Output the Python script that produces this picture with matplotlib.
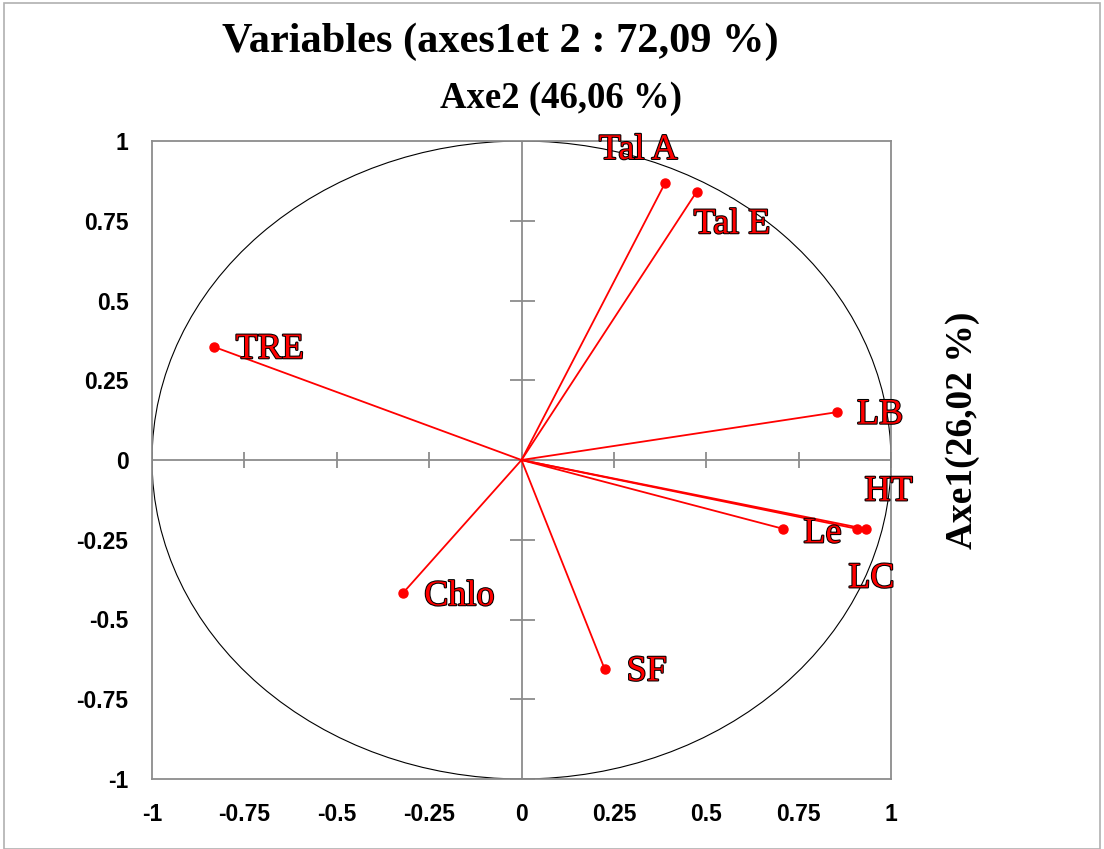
import numpy as np
import matplotlib
matplotlib.use('Agg')
import matplotlib.pyplot as plt
from matplotlib.patches import Circle, Rectangle
import matplotlib.patheffects as pe

# correlations of the variables with the two first axes
variables = ['Tal A', 'Tal E', 'TRE', 'LB', 'HT', 'LC', 'Le', 'Chlo', 'SF']
f1 = [0.388, 0.474, -0.833, 0.854, 0.931, 0.909, 0.709, -0.320, 0.225]
f2 = [0.867, 0.841, 0.355, 0.150, -0.216, -0.216, -0.216, -0.416, -0.655]

ticks = [-1, -0.75, -0.5, -0.25, 0, 0.25, 0.5, 0.75, 1]
tick_labels = ['-1', '-0.75', '-0.5', '-0.25', '0', '0.25', '0.5', '0.75', '1']

# label offsets from the point, in pixels (dx, dy)
offsets = [(-66, 33), (-3, -33), (22, -3), (20, -3), (-1, 37),
           (-9, -50), (20, -5), (21, -4), (22, -3)]

gray = '#8c8c8c'

fig = plt.figure(figsize=(11.04, 8.49), dpi=100)
fig.patches.append(Rectangle((0.004, 0.0), 0.992, 0.996, transform=fig.transFigure,
                             fill=False, edgecolor='#b0b0b0', lw=1.2))
ax = fig.add_axes([152 / 1104, 1 - 779 / 849, 739 / 1104, 638 / 849])
ax.set_xlim(-1, 1)
ax.set_ylim(-1, 1)
for s in ax.spines.values():
    s.set_color(gray)
    s.set_linewidth(1.3)

ax.axhline(0, color=gray, lw=1.3, zorder=1)
ax.axvline(0, color=gray, lw=1.3, zorder=1)
ax.plot(ticks, [0] * len(ticks), ls='none', marker='|', ms=12, mew=1.3, color=gray, zorder=1)
ax.plot([0] * len(ticks), ticks, ls='none', marker='_', ms=18, mew=1.3, color=gray, zorder=1)

ax.add_patch(Circle((0, 0), 1, fill=False, edgecolor='black', lw=0.8, zorder=2))

ax.set_xticks(ticks)
ax.set_yticks(ticks)
ax.set_xticklabels(tick_labels)
ax.set_yticklabels(tick_labels)
ax.tick_params(length=0, labelsize=16.5, pad=17)
for lab in ax.get_xticklabels() + ax.get_yticklabels():
    lab.set_fontweight('bold')
    lab.set_fontfamily('Liberation Sans')

for name, x, y, (dx, dy) in zip(variables, f1, f2, offsets):
    ax.plot([0, x], [0, y], color='red', lw=1.3, zorder=3)
    ax.plot(x, y, 'o', color='red', ms=6.5, zorder=4)
    ax.annotate(name, (x, y), xytext=(dx * 0.72, dy * 0.72), textcoords='offset points',
                ha='left', va='center', fontsize=26, family='Liberation Serif',
                color='red', zorder=5,
                path_effects=[pe.withStroke(linewidth=1.5, foreground='black')])

fig.text(500 / 1104, 1 - 42 / 849, 'Variables (axes1et 2 : 72,09 %)', ha='center', va='center',
         fontsize=30.5, fontweight='bold', family='Liberation Serif')
fig.text(561 / 1104, 1 - 98 / 849, 'Axe2 (46,06 %)', ha='center', va='center',
         fontsize=26.5, fontweight='bold', family='Liberation Serif')
fig.text(962 / 1104, 1 - 430 / 849, 'Axe1(26,02 %)', ha='center', va='center', rotation=90,
         fontsize=27, fontweight='bold', family='Liberation Serif')

fig.savefig('out.png', dpi=100)
